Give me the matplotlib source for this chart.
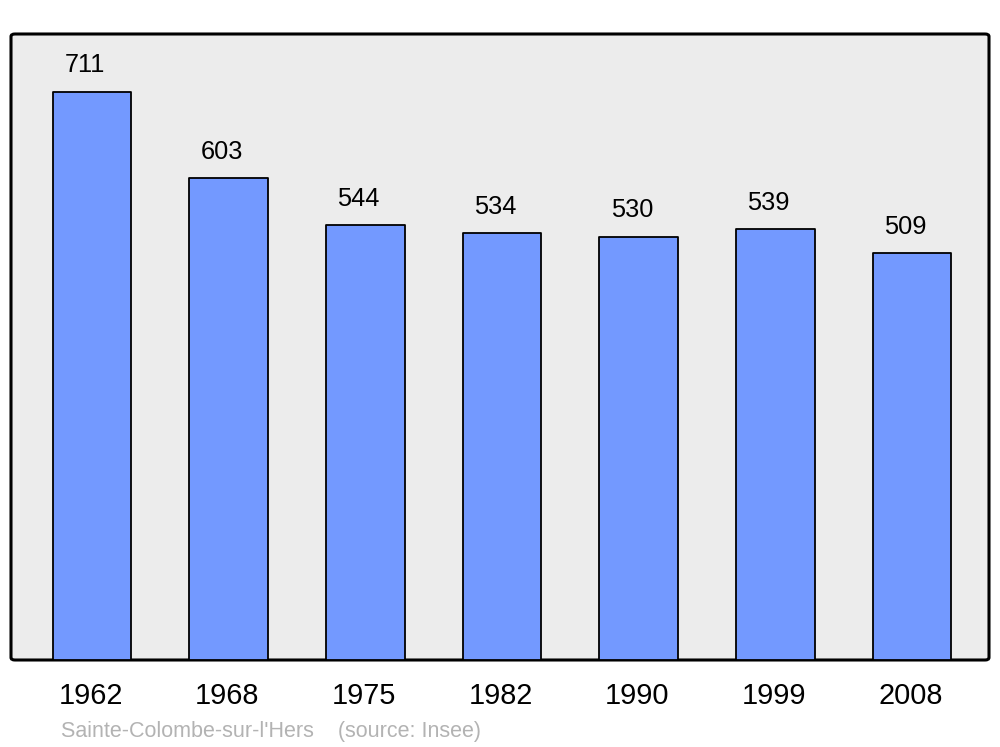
import matplotlib
matplotlib.use("Agg")
import matplotlib.pyplot as plt
from matplotlib.patches import FancyBboxPatch

years = ["1962", "1968", "1975", "1982", "1990", "1999", "2008"]
population = [711, 603, 544, 534, 530, 539, 509]
caption = "Sainte-Colombe-sur-l'Hers    (source: Insee)"

plt.rcParams['font.family'] = ['Liberation Sans', 'DejaVu Sans']

fig = plt.figure(figsize=(10, 7.47), dpi=100)
W, H = 1000, 747
ax = fig.add_axes([11 / W, 1 - 660 / H, 978 / W, 626 / H])
ax.set_xlim(-0.593, 6.563)
ax.set_ylim(0, 783.6)
ax.axis('off')

# rounded background frame
frame = FancyBboxPatch((0, 0), 1, 1, boxstyle="round,pad=0,rounding_size=0.004",
                       transform=ax.transAxes, facecolor='#ececec', edgecolor='black',
                       linewidth=2.2, zorder=0, clip_on=False)
ax.add_patch(frame)

x = list(range(len(years)))
bars = ax.bar(x, population, width=0.575, color='#7399ff', edgecolor='black',
              linewidth=1.3, zorder=2)
for b in bars:
    b.set_joinstyle('round')

for xi, v in zip(x, population):
    ax.annotate(str(v), (xi, v), xytext=(-4.8, 19.2), textcoords='offset points',
                ha='center', va='center', fontsize=18.3, color='black')

for xi, lab in zip(x, years):
    ax.text(xi - 0.01, -45, lab, ha='center', va='center', fontsize=20.8, color='black',
            transform=ax.transData)

fig.text(61 / W, 1 - 731.5 / H, caption, ha='left', va='center', fontsize=15.5,
         color='#b3b3b3')

fig.savefig('out.png', dpi=100, facecolor='white')
